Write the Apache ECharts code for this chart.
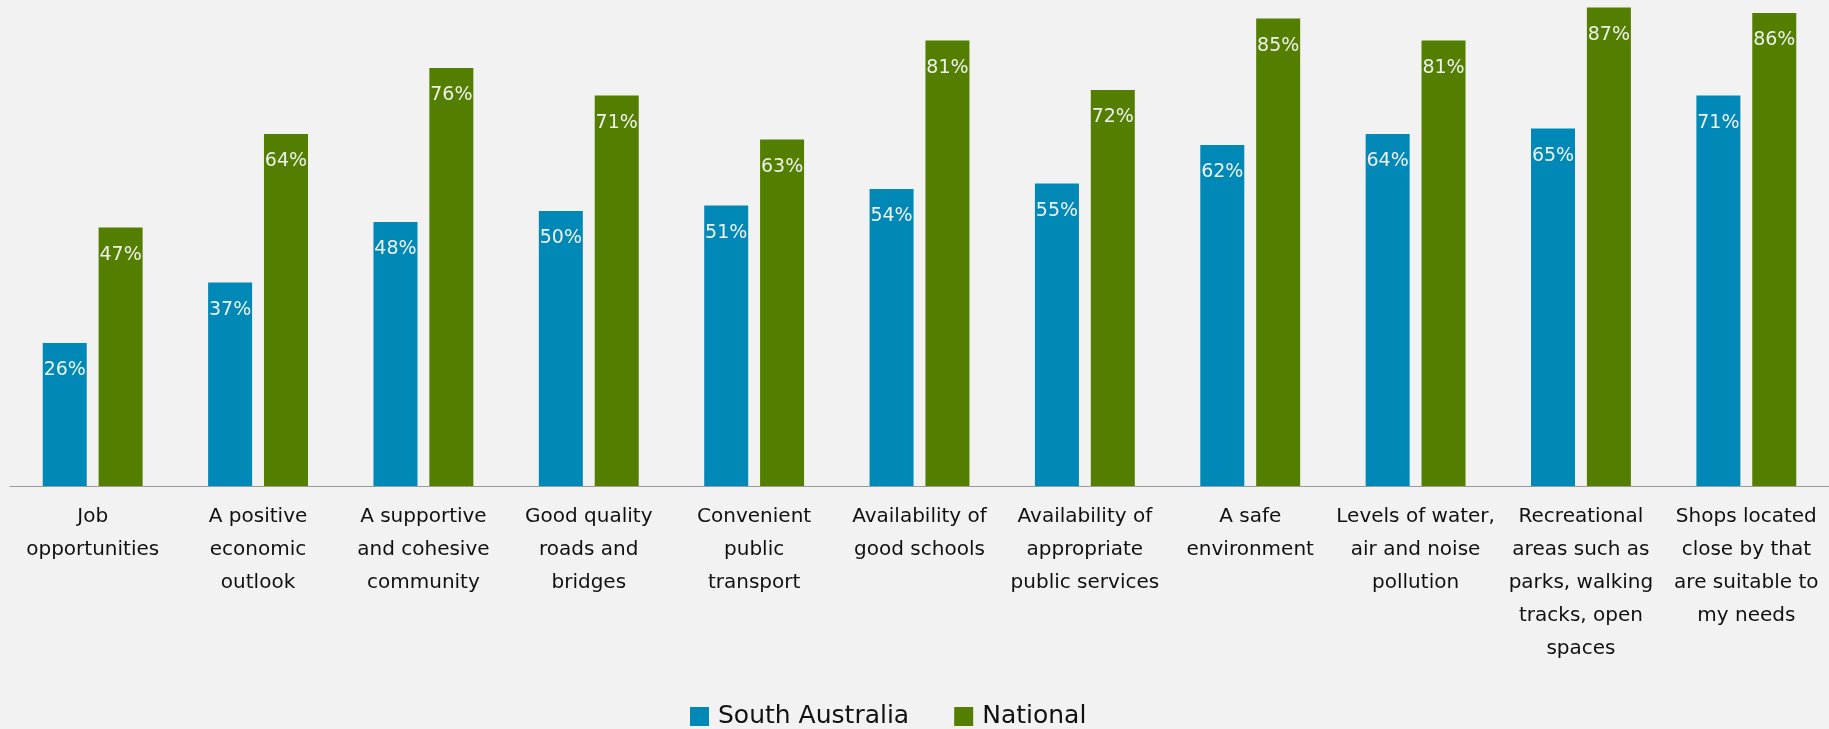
<!DOCTYPE html>
<html>
<head>
<meta charset="utf-8">
<title>Community attributes: South Australia vs National</title>
<script src="https://cdn.jsdelivr.net/npm/echarts@6/dist/echarts.min.js"></script>
<style>
  html, body { margin: 0; padding: 0; background: #f1f2f1; }
  #chart { width: 1829px; height: 729px; }
</style>
</head>
<body>
<div id="chart"></div>
<script>
// Attribute categories (line breaks as shown under the axis)
const categories = [
  'Job\nopportunities',
  'A positive\neconomic\noutlook',
  'A supportive\nand cohesive\ncommunity',
  'Good quality\nroads and\nbridges',
  'Convenient\npublic\ntransport',
  'Availability of\ngood schools',
  'Availability of\nappropriate\npublic services',
  'A safe\nenvironment',
  'Levels of water,\nair and noise\npollution',
  'Recreational\nareas such as\nparks, walking\ntracks, open\nspaces',
  'Shops located\nclose by that\nare suitable to\nmy needs'
];

// Percentages per region
const southAustralia = [26, 37, 48, 50, 51, 54, 55, 62, 64, 65, 71];
const national = [47, 64, 76, 71, 63, 81, 72, 85, 81, 87, 86];

const FONT = 'DejaVu Sans';

const barLabel = {
  show: true,
  position: 'insideTop',
  distance: 18,
  formatter: '{c}%',
  color: '#eef0ec',
  fontFamily: FONT,
  fontSize: 19
};

const chart = echarts.init(document.getElementById('chart'), null, { renderer: 'canvas' });

chart.setOption({
  backgroundColor: '#f1f2f1',
  animation: false,
  grid: { left: 10, right: -6, top: 2, bottom: 243, containLabel: false },
  legend: {
    left: 690,
    top: 701,
    padding: 0,
    itemWidth: 19,
    itemHeight: 19,
    itemGap: 45,
    icon: 'rect',
    textStyle: {
      fontFamily: FONT,
      fontSize: 25,
      lineHeight: 25,
      color: '#111',
      padding: [0, 0, 6, 4]
    },
    data: ['South Australia', 'National']
  },
  xAxis: {
    type: 'category',
    data: categories,
    axisLine: { lineStyle: { color: '#9a9a9a', width: 1 } },
    axisTick: { show: false },
    axisLabel: {
      interval: 0,
      margin: 14,
      color: '#111',
      fontFamily: FONT,
      fontSize: 20,
      lineHeight: 33,
      align: 'center'
    }
  },
  yAxis: {
    type: 'value',
    min: 0,
    max: 88,
    show: false,
    splitLine: { show: false }
  },
  series: [
    {
      name: 'South Australia',
      type: 'bar',
      data: southAustralia,
      barWidth: 44,
      barGap: '27%',
      itemStyle: { color: '#0089b6' },
      label: barLabel
    },
    {
      name: 'National',
      type: 'bar',
      data: national,
      barWidth: 44,
      barGap: '27%',
      itemStyle: { color: '#547e00' },
      label: barLabel
    }
  ]
});
</script>
</body>
</html>
